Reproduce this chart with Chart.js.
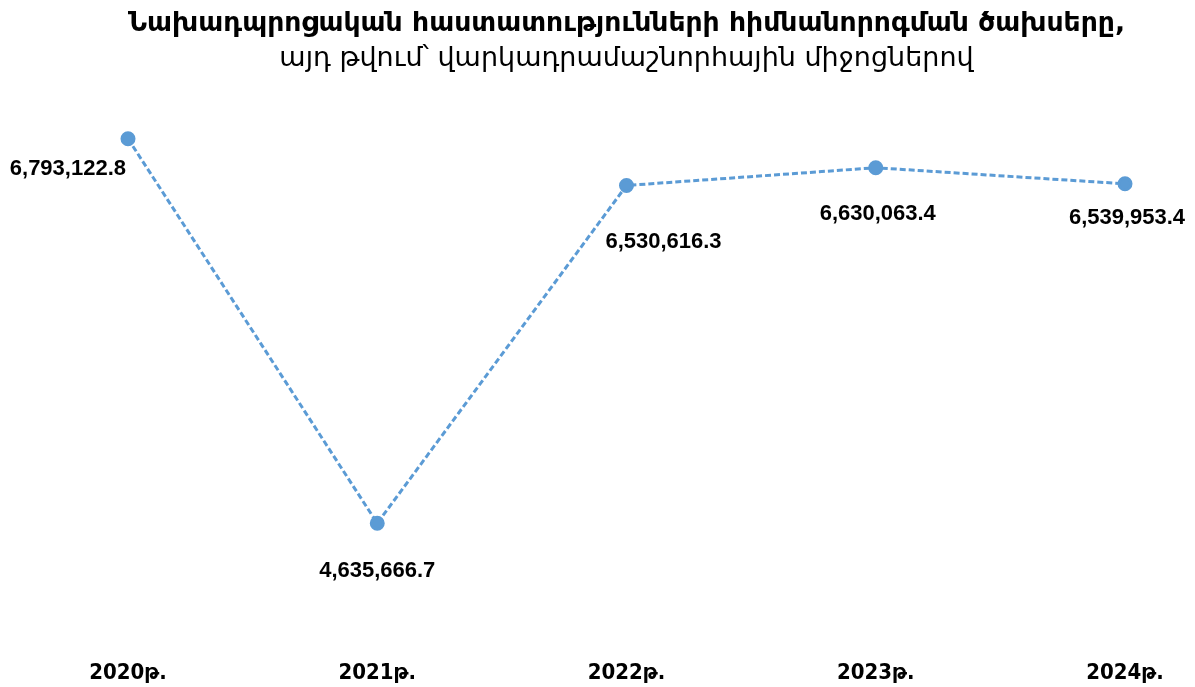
<!DOCTYPE html>
<html>
<head>
<meta charset="utf-8">
<script src="https://cdn.jsdelivr.net/npm/chart.js@4.4.0/dist/chart.umd.min.js"></script>
<style>
html,body{margin:0;padding:0;background:#fff;}
#wrap{width:1195px;height:687px;position:relative;}
</style>
</head>
<body>
<div id="wrap"><canvas id="c" width="1195" height="687"></canvas></div>
<script>
const categories = ["2020թ.", "2021թ.", "2022թ.", "2023թ.", "2024թ."];
const values = [6793122.8, 4635666.7, 6530616.3, 6630063.4, 6539953.4];
const titleLine1 = "Նախադպրոցական հաստատությունների հիմնանորոգման ծախսերը,";
const titleLine2 = "այդ թվում՝ վարկադրամաշնորհային միջոցներով";

const labelOffsets = [
  {dx: -2, dy: 30, align: "right"},
  {dx: 0, dy: 48, align: "center"},
  {dx: 37, dy: 56, align: "center"},
  {dx: 2, dy: 46, align: "center"},
  {dx: 2, dy: 34, align: "center"}
];

function fmt(v){
  return v.toLocaleString("en-US", {minimumFractionDigits:1, maximumFractionDigits:1});
}

const dataLabels = {
  id: "dataLabels",
  afterDatasetsDraw(chart){
    const ctx = chart.ctx;
    const meta = chart.getDatasetMeta(0);
    ctx.save();
    ctx.font = "bold 22px 'Liberation Sans', Arial, sans-serif";
    ctx.fillStyle = "#000";
    ctx.textBaseline = "middle";
    meta.data.forEach((pt, i) => {
      const o = labelOffsets[i];
      ctx.textAlign = o.align;
      ctx.fillText(fmt(values[i]), pt.x + o.dx, pt.y + o.dy);
    });
    ctx.restore();
  }
};

new Chart(document.getElementById("c"), {
  type: "line",
  data: {
    labels: categories,
    datasets: [{
      data: values,
      borderColor: "#5B9BD5",
      backgroundColor: "#5B9BD5",
      borderWidth: 3,
      borderDash: [6, 3],
      pointRadius: 6,
      pointHoverRadius: 6,
      pointBackgroundColor: "#5B9BD5",
      pointBorderColor: "#5B9BD5",
      tension: 0,
      fill: false
    }]
  },
  options: {
    responsive: false,
    animation: false,
    layout: {padding: {left: 128, right: 70, top: 0, bottom: -14}},
    plugins: {
      legend: {display: false},
      tooltip: {enabled: false},
      title: {
        display: true,
        text: titleLine1,
        color: "#000",
        font: {family: "'DejaVu Sans', sans-serif", size: 27, weight: "bold"},
        padding: {top: 8, bottom: 2}
      },
      subtitle: {
        display: true,
        text: titleLine2,
        color: "#000",
        font: {family: "'DejaVu Sans', sans-serif", size: 27, weight: "normal"},
        padding: {top: 0, bottom: 27}
      }
    },
    scales: {
      x: {
        offset: false,
        grid: {display: false},
        border: {display: false},
        ticks: {
          color: "#000",
          padding: 15,
          maxRotation: 0,
          font: {family: "'DejaVu Sans Condensed', 'DejaVu Sans', sans-serif", size: 22, weight: "bold"}
        }
      },
      y: {
        display: false,
        min: 4000000,
        max: 7000000
      }
    }
  },
  plugins: [dataLabels]
});
</script>
</body>
</html>
